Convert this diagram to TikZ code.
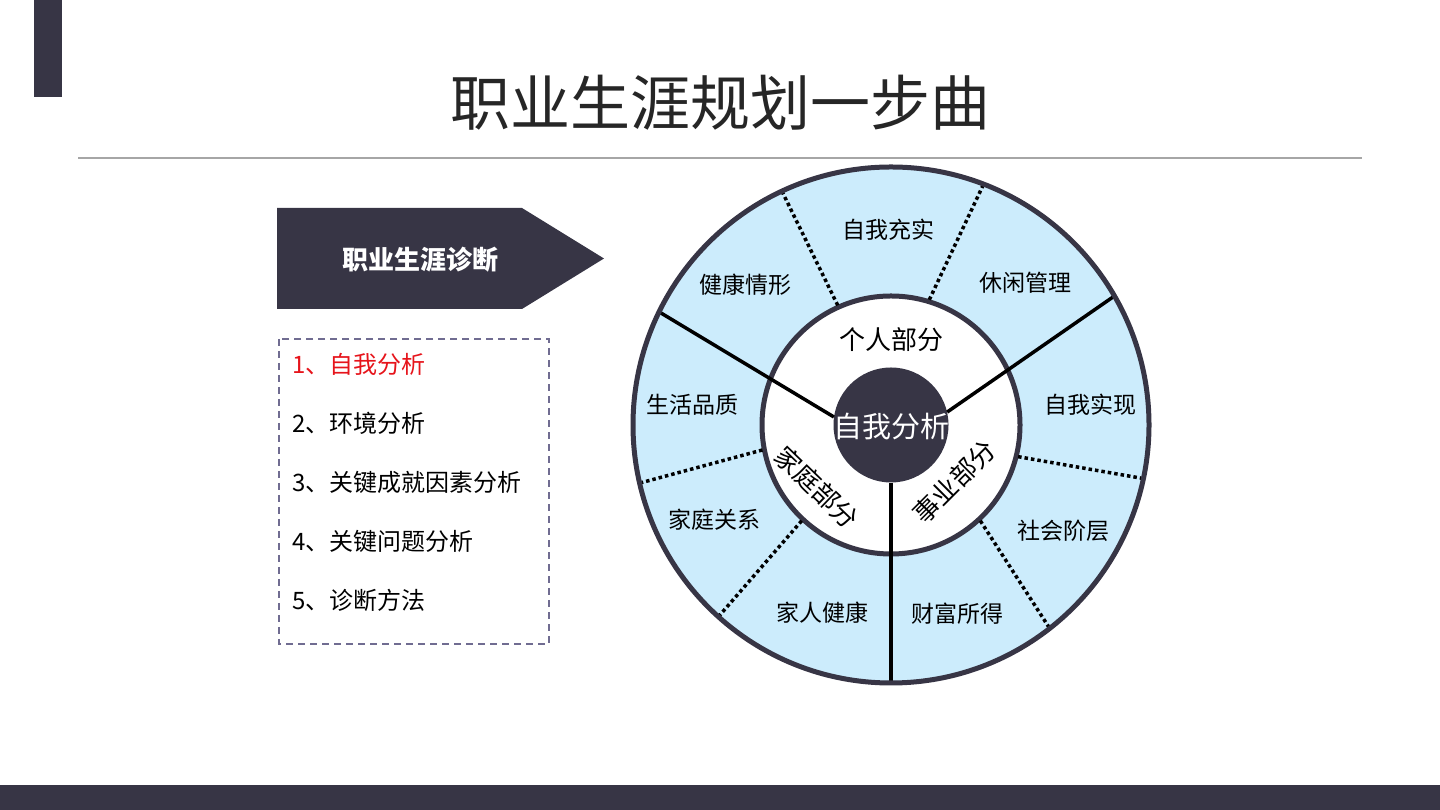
\documentclass[tikz,border=0pt]{standalone}
\usepackage{fontspec}
\setmainfont{Noto Sans CJK SC}
\usetikzlibrary{positioning}
\definecolor{navy}{RGB}{55,53,69}
\definecolor{paleblue}{RGB}{204,236,252}
\definecolor{rulegray}{RGB}{166,166,166}
\definecolor{boxline}{RGB}{112,108,145}
\definecolor{itemred}{RGB}{230,20,27}
\definecolor{inkgray}{RGB}{38,38,38}
\begin{document}
\begin{tikzpicture}[x=1pt,y=1pt,
  spoke/.style={line width=3.5pt,black},
  divider/.style={line width=3.5pt,black,dash pattern=on 3.5pt off 3pt},
  seglabel/.style={font=\fontsize{23}{26}\selectfont,text=black},
  partlabel/.style={font=\fontsize{26}{30}\selectfont,text=black},
  listitem/.style={anchor=west,font=\fontsize{24}{28}\selectfont,text=black}]
\useasboundingbox (0,0) rectangle (1440,810);
\fill[navy] (34,810) rectangle (62,713);
\fill[navy] (0,0) rectangle (1440,25);
\node[font=\fontsize{60}{64}\selectfont,text=inkgray] (title) at (720,707) {职业生涯规划一步曲};
\draw[rulegray,line width=1.5pt] (78,652) -- (1362,652);
\fill[navy] (277,602) -- (522,602) -- (604,551.5) -- (522,501) -- (277,501) -- cycle;
\node[font=\bfseries\fontsize{26}{30}\selectfont,text=white] (head) at (420,550) {职业生涯诊断};
\draw[boxline,line width=2pt,dash pattern=on 7pt off 5pt] (279,471) rectangle (549,166);
\node[listitem,text=itemred] (item1) at (289,446) {1、自我分析};
\node[listitem] (item2) at (289,387) {2、环境分析};
\node[listitem] (item3) at (289,328) {3、关键成就因素分析};
\node[listitem] (item4) at (289,269) {4、关键问题分析};
\node[listitem] (item5) at (289,210) {5、诊断方法};
\begin{scope}[shift={(891,385)}]
\fill[paleblue] (0,0) circle (258);
\filldraw[fill=white,draw=navy,line width=5pt] (0,0) circle (129);
\foreach \a/\b in {114/115,73/69,-14/-12,-47/-52,191/193,227/228}
  \draw[divider] (\a:131) -- (\b:256);
\node[circle,fill=navy,minimum size=115pt,inner sep=0pt] (core) at (0,0) {};
\coordinate (rimleft) at (154:258);
\coordinate (rimright) at (30:258);
\coordinate (rimdown) at (270:258);
\draw[spoke] (core.172) -- (rimleft);
\draw[spoke] (core.13) -- (rimright);
\draw[spoke] (core.south) -- (rimdown);
\draw[navy,line width=5pt] (0,0) circle (258);
\node[font=\fontsize{29}{32}\selectfont,text=white] (coretext) at (0,-2) {自我分析};
\node[partlabel] (personal) at (0,85) {个人部分};
\node[partlabel,rotate=-44] (family) at (-74,-62) {家庭部分};
\node[partlabel,rotate=45] (career) at (63,-57) {事业部分};
\node[seglabel] (growth) at (-3,195) {自我充实};
\node[seglabel] (health) at (-146,140) {健康情形};
\node[seglabel] (leisure) at (134,142) {休闲管理};
\node[seglabel] (quality) at (-199,20) {生活品质};
\node[seglabel] (achieve) at (199,20) {自我实现};
\node[seglabel] (relation) at (-177,-95) {家庭关系};
\node[seglabel] (status) at (172,-106) {社会阶层};
\node[seglabel] (kin) at (-69,-188) {家人健康};
\node[seglabel] (wealth) at (66,-189) {财富所得};
\end{scope}
\end{tikzpicture}
\end{document}
